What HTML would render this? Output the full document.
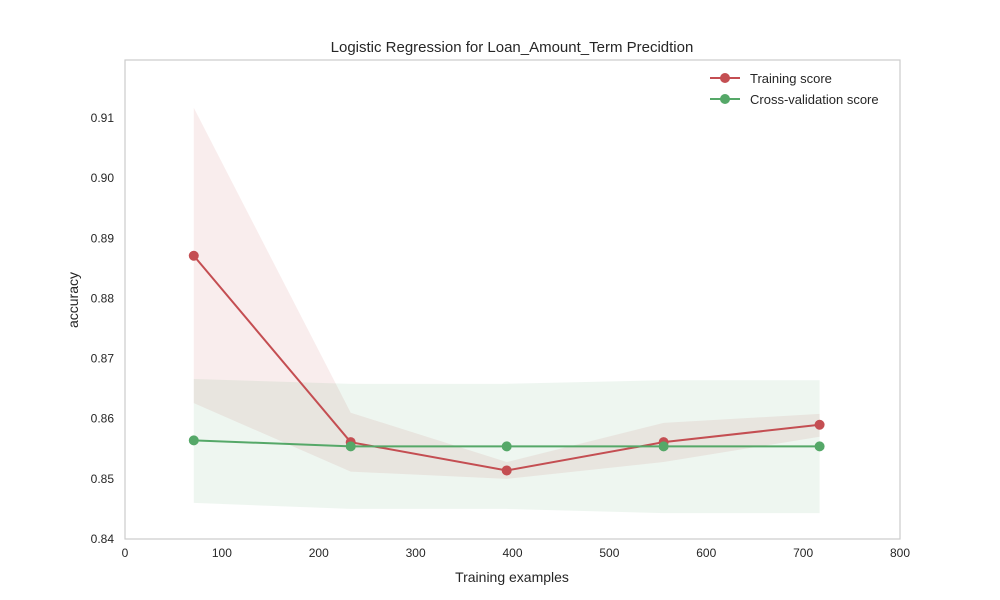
<!DOCTYPE html>
<html><head><meta charset="utf-8"><style>
html,body{margin:0;padding:0;background:#fff;}
svg{display:block;font-family:"Liberation Sans",Arial,sans-serif;}
</style></head><body>
<svg id="chart" width="1000" height="600" viewBox="0 0 1000 600">
<rect x="0" y="0" width="1000" height="600" fill="#fff"/>
<g id="bands"></g><g id="lines"></g><g id="ticks"></g>
<rect x="125" y="60" width="775" height="479" fill="none" stroke="#cccccc" stroke-width="1.2"/>
<text x="512" y="52" text-anchor="middle" font-size="15" fill="#262626">Logistic Regression for Loan_Amount_Term Precidtion</text>
<text x="512" y="582" text-anchor="middle" font-size="14" fill="#262626">Training examples</text>
<text transform="translate(78,300) rotate(-90)" text-anchor="middle" font-size="14" fill="#262626">accuracy</text>
<g>
<g>
<line x1="710" y1="78" x2="740" y2="78" stroke="#c44e52" stroke-width="2"/><circle cx="725" cy="78" r="5" fill="#c44e52"/>
<text x="750" y="83" font-size="13" fill="#262626">Training score</text></g>
<g>
<line x1="710" y1="99" x2="740" y2="99" stroke="#55a868" stroke-width="2"/><circle cx="725" cy="99" r="5" fill="#55a868"/>
<text x="750" y="104" font-size="13" fill="#262626">Cross-validation score</text></g>
</g>
</svg>
<script>
const sizes=[71,233,394,556,717];
const trainMean=[0.8871,0.8561,0.8514,0.8561,0.8590];
const trainUpper=[0.9117,0.8610,0.8528,0.8593,0.8608];
const trainLower=[0.8626,0.8512,0.8500,0.8528,0.8570];
const cvMean=[0.8564,0.8554,0.8554,0.8554,0.8554];
const cvUpper=[0.8666,0.8658,0.8658,0.8664,0.8664];
const cvLower=[0.8460,0.8450,0.8450,0.8443,0.8443];
const xTicks=[0,100,200,300,400,500,600,700,800];
const yTicks=[0.84,0.85,0.86,0.87,0.88,0.89,0.90,0.91];
const NS='http://www.w3.org/2000/svg';
const sx=v=>125+v*775/800;
const sy=v=>539-(v-0.84)*6014;
function mk(t,a,p){const e=document.createElementNS(NS,t);for(const k in a)e.setAttribute(k,a[k]);document.getElementById(p).appendChild(e);return e;}
function band(up,lo,col,name){
 let d='M'+sizes.map((s,i)=>sx(s)+','+sy(up[i])).join('L');
 d+='L'+sizes.map((s,i)=>[sx(s),sy(lo[i])]).reverse().map(p=>p.join(',')).join('L')+'Z';
 const e=mk('path',{d:d,fill:col,'fill-opacity':0.1},'bands');
 
 
}
band(trainUpper,trainLower,'#c44e52','training-band');
band(cvUpper,cvLower,'#55a868','cv-band');
function series(m,col,name){
 const l=mk('polyline',{points:sizes.map((s,i)=>sx(s)+','+sy(m[i])).join(' '),fill:'none',stroke:col,'stroke-width':2},'lines');
 
 
 sizes.forEach((s,i)=>{const c=mk('circle',{cx:sx(s),cy:sy(m[i]),r:5,fill:col},'lines');
 
 });
}
series(trainMean,'#c44e52','training-score');
series(cvMean,'#55a868','cv-score');
xTicks.forEach(v=>{const t=mk('text',{x:sx(v),y:557,'text-anchor':'middle','font-size':12,fill:'#262626'},'ticks');t.textContent=v;
 
 });
yTicks.forEach(v=>{const t=mk('text',{x:114,y:sy(v)+4,'text-anchor':'end','font-size':12,fill:'#262626'},'ticks');t.textContent=v.toFixed(2);
 
 });
</script>
</body></html>
